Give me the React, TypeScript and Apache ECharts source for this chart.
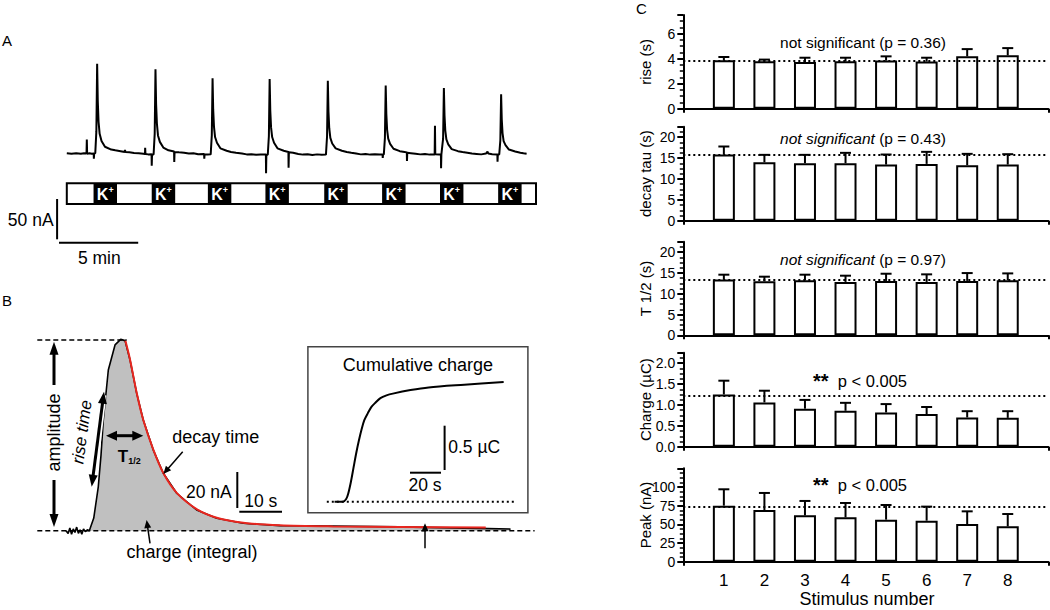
import React, { useEffect, useRef } from 'react';
import * as echarts from 'echarts';

const FONT = '"Liberation Sans", Arial, Helvetica, sans-serif';

// ---------------- Panel A: recording (time in min, current in nA) ----------------
const stimStartMin = [1.71, 5.43, 9.02, 12.7, 16.46, 20.16, 23.86, 27.58];
const stimDurationMin = 1.5;
const recordingSpanMin = [0, 30];
const traceA: number[][] = [
  [0, 0.8], [0.3, 0.2], [0.6, 1.0], [0.9, 0.4], [1.1, 0.9], [1.26, 0.5], [1.28, 18], [1.3, 0.3], [1.45, 1.0], [1.6, 0.2], [1.72, 0.6], [1.73, -6], [1.75, 0.5],
  [1.82, 1], [1.89, 28], [1.94, 112], [1.98, 66], [2.03, 40], [2.1, 25], [2.22, 16], [2.44, 9], [2.84, 5.5], [3.1, 4.5], [3.44, 3.5], [3.7, 2.5], [3.72, 5], [3.75, 2.5], [4.0, 2], [4.3, 1.2], [4.6, 0.8], [4.9, 0.3], [5.0, -0.2], [5.01, 7.8], [5.03, 0], [5.2, -0.5], [5.42, -0.3], [5.43, -14.5], [5.45, -0.5],
  [5.55, -0.5], [5.62, 25], [5.67, 105], [5.71, 62], [5.76, 38], [5.83, 23], [5.95, 15], [6.17, 8], [6.5, 4.5], [6.86, 3], [6.87, -10], [6.89, 2.5], [7.17, 2], [7.5, 1.5], [7.8, 0.5], [8.1, 0.8], [8.4, -0.3], [8.78, 0], [8.79, -5.8], [8.81, -0.5], [9.0, -0.8],
  [9.2, -0.5], [9.27, 23], [9.32, 94], [9.36, 55], [9.41, 34], [9.48, 21], [9.6, 14], [9.82, 7], [10.22, 4], [10.5, 2.5], [10.82, 1.5], [11.2, 0.5], [11.5, -0.5], [11.8, -0.2], [12.1, -1.0], [12.4, -0.6], [12.73, -0.8], [12.74, -24], [12.76, -1],
  [12.85, -1], [12.92, 22], [12.97, 93], [13.01, 54], [13.06, 33], [13.13, 21], [13.25, 14], [13.47, 7], [13.87, 4], [14.17, 2.5], [14.18, -17], [14.2, 2], [14.47, 1.5], [14.8, 0], [15.1, -0.8], [15.4, -0.3], [15.7, -1.2], [16.0, -0.5], [16.3, -1],
  [16.57, -0.8], [16.64, 22], [16.69, 91], [16.73, 53], [16.78, 32], [16.85, 20], [16.97, 13], [17.19, 7], [17.59, 4], [17.9, 2.5], [18.19, 1.5], [18.5, 0.5], [18.8, -0.5], [19.1, 0], [19.4, -0.8], [19.7, -0.3], [20.0, -0.6], [20.19, -0.5], [20.2, -5], [20.22, -0.5],
  [20.27, -0.5], [20.34, 20], [20.39, 85], [20.43, 50], [20.48, 30], [20.55, 19], [20.67, 12.5], [20.89, 6.5], [21.29, 3.5], [21.6, 2.5], [21.74, 2], [21.75, -8.7], [21.77, 1.5], [22.0, 1], [22.3, 0.3], [22.6, -0.5], [22.9, 0], [23.2, -0.8], [23.52, -0.5], [23.54, 35], [23.56, -0.3], [23.8, -0.5], [23.92, -0.5], [23.93, -17.7], [23.95, -0.5],
  [23.99, -0.5], [24.06, 19], [24.11, 82], [24.15, 48], [24.2, 29], [24.27, 18], [24.39, 12], [24.61, 6], [25.01, 3.5], [25.3, 2.5], [25.61, 1.5], [25.9, 0.5], [26.2, 0], [26.5, -0.5], [26.8, 0.5], [26.9, 3], [26.95, 0.5], [27.2, -0.3], [27.53, -0.5], [27.54, -9.5], [27.56, -0.5],
  [27.65, -0.5], [27.72, 17], [27.77, 74], [27.81, 43], [27.86, 26], [27.93, 16], [28.05, 11], [28.27, 5.5], [28.67, 3], [29.0, 1.5], [29.2, 0.8], [29.4, 0.3],
];

// ---------------- Panel B: single response (time in s, current in nA) ----------------
const traceB: number[][] = [
  [0, 0], [0.5, -1.5], [0.9, 1.5], [1.3, -2], [1.7, 1], [2.1, -1], [2.5, 2], [2.9, -1.5], [3.3, 0.5], [3.7, -2], [4.1, 1], [4.5, -0.5], [5, 0.5], [5.46, 0],
  [6.5, 7], [7.56, 24.4], [8.2, 42], [8.74, 61.5], [9.91, 89.3], [11.48, 103.2], [12.81, 106.3], [13.82, 105.6], [15.0, 94.8], [16.56, 76.3], [18.1, 61.5],
  [20.45, 44.8], [22.79, 31.9], [25.93, 20.8], [30.6, 11.5], [35.3, 6.9], [41.5, 4.1], [50.1, 2.8], [62.5, 2.6], [78.2, 2.1], [96.2, 1.3], [104.1, 0.9],
];
const fitB: number[][] = [
  [13.9, 105.6], [15.0, 95], [16.56, 76.5], [18.1, 61.5], [20.45, 45], [22.79, 32], [25.93, 21], [30.6, 12], [35.3, 7.2], [41.5, 4.4], [50.1, 3], [62.5, 2.4], [78.2, 2.1], [98.3, 1.8],
];
// inset: cumulative charge (time in s, charge in µC)
const cumulativeCharge: number[][] = [
  [5, 0], [10.4, 0], [12.5, 0.03], [13.8, 0.09], [15.5, 0.22], [17.3, 0.39], [19, 0.55], [20.7, 0.69], [22.5, 0.82], [24.2, 0.92], [26.5, 1.0], [28.8, 1.07],
  [31.5, 1.12], [34.6, 1.17], [38.5, 1.2], [42.6, 1.22], [54, 1.26], [65.7, 1.29], [88.7, 1.32], [114.1, 1.35],
];
const cumulativeBaseline: number[][] = [[0, 0], [122.6, 0]];

// ---------------- Panel C: summary statistics ----------------
const stimulusNumbers = [1, 2, 3, 4, 5, 6, 7, 8];
const riseMean = [3.87, 3.79, 3.74, 3.79, 3.85, 3.77, 4.19, 4.27];
const riseSem = [0.27, 0.14, 0.34, 0.29, 0.34, 0.31, 0.58, 0.58];
const riseRef = 3.85;
const decayMean = [15.84, 14.0, 13.76, 13.76, 13.44, 13.6, 13.28, 13.44];
const decaySem = [1.92, 1.76, 2.0, 2.48, 2.4, 2.88, 2.72, 2.48];
const decayRef = 15.84;
const halfMean = [13.39, 12.99, 13.23, 12.83, 13.07, 12.83, 13.07, 13.23];
const halfSem = [1.18, 1.1, 1.34, 1.5, 1.73, 1.82, 1.89, 1.65];
const halfRef = 13.31;
const chargeMean = [1.25, 1.06, 0.91, 0.86, 0.82, 0.78, 0.7, 0.69];
const chargeSem = [0.33, 0.28, 0.21, 0.19, 0.2, 0.17, 0.15, 0.16];
const chargeRef = 1.23;
const peakMean = [75, 69.2, 62, 59.4, 56.3, 54.9, 50.4, 47.3];
const peakSem = [21.9, 22.8, 19.3, 19.2, 19.6, 18.8, 17, 16.5];
const peakRef = 74;

const yNames = ['rise (s)', 'decay tau (s)', 'T 1/2 (s)', 'Charge (µC)', 'Peak (nA)'];
const yMax = [7.5, 22.5, 22.5, 2.25, 125];
const yInterval = [2, 5, 5, 0.5, 25];
const yDecimals = [0, 0, 0, 1, 0];

const panels = [
  { mean: riseMean, sem: riseSem, ref: riseRef },
  { mean: decayMean, sem: decaySem, ref: decayRef },
  { mean: halfMean, sem: halfSem, ref: halfRef },
  { mean: chargeMean, sem: chargeSem, ref: chargeRef },
  { mean: peakMean, sem: peakSem, ref: peakRef },
];
const cGridBox = [
  [15, 93.7], [126.7, 94], [241.7, 93.6], [352.7, 94], [468.3, 93.4],
];

const STIM_Y = 183.3;
const STIM_H = 20.7;

function ln(x1: number, y1: number, x2: number, y2: number, w = 2, dash?: number[], color = '#000') {
  return { type: 'line', z: 100, shape: { x1, y1, x2, y2 }, style: { stroke: color, lineWidth: w, lineDash: dash } };
}
function head(tx: number, ty: number, fx: number, fy: number, len: number, half: number) {
  const dx = fx - tx, dy = fy - ty;
  const L = Math.hypot(dx, dy);
  const ux = dx / L, uy = dy / L;
  const bx = tx + ux * len, by = ty + uy * len;
  const nx = -uy, ny = ux;
  return {
    type: 'polygon', z: 101,
    shape: { points: [[tx, ty], [bx + nx * half, by + ny * half], [bx - nx * half, by - ny * half]] },
    style: { fill: '#000' },
  };
}
function arrow(x1: number, y1: number, x2: number, y2: number, w: number, len: number, half: number, startHead: boolean, endHead: boolean) {
  const dx = x2 - x1, dy = y2 - y1;
  const L = Math.hypot(dx, dy);
  const ux = dx / L, uy = dy / L;
  const sx = startHead ? x1 + ux * len * 0.8 : x1;
  const sy = startHead ? y1 + uy * len * 0.8 : y1;
  const ex = endHead ? x2 - ux * len * 0.8 : x2;
  const ey = endHead ? y2 - uy * len * 0.8 : y2;
  const out: any[] = [ln(sx, sy, ex, ey, w)];
  if (startHead) out.push(head(x1, y1, x2, y2, len, half));
  if (endHead) out.push(head(x2, y2, x1, y1, len, half));
  return out;
}
function txt(x: number, y: number, text: string, size: number, align = 'center', extra: any = {}, rotation = 0) {
  return {
    type: 'text', z: 102, x, y, rotation,
    style: {
      text, fontSize: size, fontFamily: FONT, fill: '#000',
      align, verticalAlign: 'middle', textAlign: align, textVerticalAlign: 'middle',
      ...extra,
    },
  };
}

function buildOption() {
  const grid: any[] = [
    { left: 66.8, top: 57.3, width: 469.2, height: 128.9 },
    { left: 66, top: 332.7, width: 469.7, height: 216 },
    { left: 326.8, top: 368.8, width: 193.75, height: 141.76 },
    ...cGridBox.map(([top, height]) => ({ left: 683.3, top, width: 365, height })),
  ].map((g) => ({ ...g, containLabel: false, outerBoundsMode: 'none' }));

  const hiddenX = (i: number, min: number, max: number) => ({ type: 'value', gridIndex: i, min, max, show: false });
  const xAxis: any[] = [
    hiddenX(0, recordingSpanMin[0], recordingSpanMin[1]),
    hiddenX(1, 0, 110),
    hiddenX(2, 0, 125),
  ];
  const yAxis: any[] = [
    hiddenX(0, -40, 120),
    hiddenX(1, -10, 110),
    hiddenX(2, -0.1, 1.5),
  ];

  const series: any[] = [
    {
      type: 'line', xAxisIndex: 0, yAxisIndex: 0, data: traceA, symbol: 'none', showSymbol: false,
      lineStyle: { color: '#000', width: 2 }, z: 3,
    },
    {
      type: 'custom', xAxisIndex: 0, yAxisIndex: 0, data: [recordingSpanMin], z: 4,
      renderItem: (_p: any, api: any) => {
        const x0 = api.coord([api.value(0), 0])[0];
        const x1 = api.coord([api.value(1), 0])[0];
        return { type: 'rect', shape: { x: x0, y: STIM_Y, width: x1 - x0, height: STIM_H }, style: { fill: '#fff', stroke: '#000', lineWidth: 2 } };
      },
    },
    {
      type: 'custom', xAxisIndex: 0, yAxisIndex: 0, data: stimStartMin.map((s) => [s, 0]), z: 5,
      renderItem: (_p: any, api: any) => {
        const s = api.value(0);
        const x0 = api.coord([s, 0])[0];
        const x1 = api.coord([s + stimDurationMin, 0])[0];
        return {
          type: 'group',
          children: [
            { type: 'rect', shape: { x: x0, y: STIM_Y, width: x1 - x0, height: STIM_H }, style: { fill: '#000' } },
            {
              type: 'text', x: (x0 + x1) / 2, y: STIM_Y + STIM_H / 2 + 1,
              style: {
                text: '{k|K}{p|+}',
                align: 'center', verticalAlign: 'middle', textAlign: 'center', textVerticalAlign: 'middle',
                rich: {
                  k: { fontSize: 16, fontWeight: 'bold', fill: '#fff', fontFamily: FONT, lineHeight: 18 },
                  p: { fontSize: 9, fontWeight: 'bold', fill: '#fff', fontFamily: FONT, verticalAlign: 'top', lineHeight: 18 },
                },
              },
            },
          ],
        };
      },
    },
    {
      type: 'line', xAxisIndex: 1, yAxisIndex: 1, data: traceB, symbol: 'none', showSymbol: false,
      lineStyle: { color: '#000', width: 1.6 }, areaStyle: { color: '#c0c0c0', opacity: 1, origin: 0 }, z: 3,
    },
    {
      type: 'line', xAxisIndex: 1, yAxisIndex: 1, data: fitB, symbol: 'none', showSymbol: false, smooth: 0.3,
      lineStyle: { color: '#e8261f', width: 2 }, z: 4,
    },
    {
      type: 'line', xAxisIndex: 2, yAxisIndex: 2, data: cumulativeBaseline, symbol: 'none', showSymbol: false,
      lineStyle: { color: '#000', width: 2, type: [2, 3] }, z: 3,
    },
    {
      type: 'line', xAxisIndex: 2, yAxisIndex: 2, data: cumulativeCharge, symbol: 'none', showSymbol: false, smooth: 0.3,
      lineStyle: { color: '#000', width: 2 }, z: 4,
    },
  ];

  panels.forEach((p, i) => {
    const gi = 3 + i;
    const last = i === panels.length - 1;
    xAxis.push({
      type: 'value', gridIndex: gi, min: 0, max: 9, interval: 1,
      axisLine: { show: true, onZero: false, lineStyle: { color: '#000', width: 2 } },
      axisTick: { show: true, customValues: [0, 9], length: 4, lineStyle: { color: '#000', width: 2 } },
      axisLabel: last
        ? { show: true, customValues: stimulusNumbers, color: '#000', fontSize: 17, fontFamily: FONT, margin: 10 }
        : { show: false },
      splitLine: { show: false },
    });
    yAxis.push({
      type: 'value', gridIndex: gi, min: 0, max: yMax[i], interval: yInterval[i],
      axisLine: { show: true, lineStyle: { color: '#000', width: 2 } },
      axisTick: { show: true, length: 6, lineStyle: { color: '#000', width: 2 } },
      minorTick: { show: true, splitNumber: 4, length: 3.5, lineStyle: { color: '#000', width: 1.5 } },
      splitLine: { show: false },
      minorSplitLine: { show: false },
      axisLabel: {
        color: '#000', fontSize: 14, fontFamily: FONT, margin: 8, showMaxLabel: false,
        formatter: (v: number) => v.toFixed(yDecimals[i]),
      },
    });
    series.push({
      type: 'bar', xAxisIndex: gi, yAxisIndex: gi,
      data: stimulusNumbers.map((n, j) => [n, p.mean[j]]),
      barWidth: 22,
      itemStyle: { color: '#fff', borderColor: '#000', borderWidth: 2 },
      z: 2,
      markLine: {
        silent: true, symbol: ['none', 'none'], label: { show: false },
        lineStyle: { color: '#000', type: [2, 3], width: 2 },
        emphasis: { disabled: true },
        data: [{ yAxis: p.ref }],
      },
    });
    series.push({
      type: 'custom', xAxisIndex: gi, yAxisIndex: gi, z: 3,
      data: stimulusNumbers.map((n, j) => [n, p.mean[j], p.sem[j]]),
      encode: { x: 0, y: 1 },
      renderItem: (_pp: any, api: any) => {
        const x = api.value(0), m = api.value(1), e = api.value(2);
        const a = api.coord([x, m]);
        const b = api.coord([x, m + e]);
        return {
          type: 'group',
          children: [
            { type: 'line', shape: { x1: a[0], y1: a[1], x2: b[0], y2: b[1] }, style: { stroke: '#000', lineWidth: 2 } },
            { type: 'line', shape: { x1: b[0] - 5.5, y1: b[1], x2: b[0] + 5.5, y2: b[1] }, style: { stroke: '#000', lineWidth: 2 } },
          ],
        };
      },
    });
  });

  const g: any[] = [];
  // panel letters
  g.push(txt(2, 40, 'A', 15, 'left'));
  g.push(txt(2, 300, 'B', 15, 'left'));
  g.push(txt(636, 8, 'C', 15, 'left'));
  // panel A scale bars
  g.push(ln(57.1, 199, 57.1, 239.3, 2));
  g.push(ln(59, 242.7, 138.2, 242.7, 2));
  g.push(txt(53.6, 220, '50 nA', 17.5, 'right'));
  g.push(txt(99.3, 258, '5 min', 17.5, 'center'));

  // panel B annotations
  g.push(ln(37.3, 340, 126.7, 340, 1.5, [5, 3]));
  g.push(ln(37.3, 530.7, 534.6, 530.7, 1.5, [5, 3]));
  g.push(...arrow(54, 385, 54, 341.7, 3, 13, 4.5, false, true));
  g.push(...arrow(54, 480, 54, 527, 3, 13, 4.5, false, true));
  g.push(txt(54, 432.5, 'amplitude', 18, 'center', {}, Math.PI / 2));
  g.push({ type: 'line', z: 99, shape: { x1: 103, y1: 395, x2: 92.5, y2: 483 }, style: { stroke: '#fff', lineWidth: 7 } });
  g.push(...arrow(104, 391.7, 91.7, 486.7, 3, 12, 4.5, true, true));
  g.push(txt(82, 432, 'rise time', 17, 'center', { fontStyle: 'italic' }, 1.44));
  g.push(...arrow(106, 435.7, 143.3, 435.7, 3, 11, 5, true, true));
  g.push({
    type: 'text', z: 102, x: 129.2, y: 456.7,
    style: {
      text: '{t|T}{s|1/2}', align: 'center', verticalAlign: 'middle', textAlign: 'center', textVerticalAlign: 'middle',
      rich: {
        t: { fontSize: 17, fontWeight: 'bold', fontFamily: FONT, fill: '#000', lineHeight: 18 },
        s: { fontSize: 9, fontWeight: 'bold', fontFamily: FONT, fill: '#000', verticalAlign: 'bottom', lineHeight: 18 },
      },
    },
  });
  g.push(txt(215.8, 436.7, 'decay time', 18));
  g.push(...arrow(182.7, 451.7, 163.3, 474, 1.5, 8, 3.5, false, true));
  g.push(txt(192, 551.7, 'charge (integral)', 18));
  g.push(...arrow(150, 543.3, 146.6, 520, 1.5, 8, 3.5, false, true));
  g.push(ln(237.3, 472, 237.3, 508, 2));
  g.push(txt(231.7, 491.7, '20 nA', 17.5, 'right'));
  g.push(ln(239.3, 511.7, 282, 511.7, 2));
  g.push(txt(260.7, 500.7, '10 s', 17.5));
  g.push(...arrow(425, 548.3, 425, 523.3, 1.5, 8, 3.5, false, true));
  // inset
  g.push({ type: 'rect', z: 1, shape: { x: 307.9, y: 346.7, width: 220, height: 166 }, style: { fill: 'none', stroke: '#444', lineWidth: 1.5 } });
  g.push(txt(417.9, 365, 'Cumulative charge', 18));
  g.push(ln(444.6, 425.7, 444.6, 470, 2));
  g.push(txt(448.2, 446.7, '0.5 µC', 17.5, 'left'));
  g.push(ln(410, 472.7, 441, 472.7, 2));
  g.push(txt(425, 485, '20 s', 17.5));

  // panel C texts
  const sigY = [42.7, 138.3, 259.3, 380.7, 485];
  const baseRich = (size: number) => ({ fontSize: size, fontFamily: FONT, fill: '#000' });
  g.push(txt(863, sigY[0], 'not significant (p = 0.36)', 15.5));
  const italicSig = (y: number, p: string) => ({
    type: 'text', z: 102, x: 863, y,
    style: {
      text: `{i|not significant}{n| (p = ${p})}`,
      align: 'center', verticalAlign: 'middle', textAlign: 'center', textVerticalAlign: 'middle',
      rich: { i: { ...baseRich(15.5), fontStyle: 'italic' }, n: baseRich(15.5) },
    },
  });
  g.push(italicSig(sigY[1], '0.43'));
  g.push(italicSig(sigY[2], '0.97'));
  const starSig = (y: number) => ({
    type: 'text', z: 102, x: 860, y,
    style: {
      text: '{a|**}{n|  p < 0.005}',
      align: 'center', verticalAlign: 'middle', textAlign: 'center', textVerticalAlign: 'middle',
      rich: { a: { ...baseRich(20), fontWeight: 'bold', verticalAlign: 'middle' }, n: baseRich(16.5) },
    },
  });
  g.push(starSig(sigY[3]));
  g.push(starSig(sigY[4]));
  cGridBox.forEach(([top, h], i) => {
    g.push(txt(645, top + h / 2, yNames[i], 15, 'center', {}, Math.PI / 2));
  });
  g.push(txt(867, 599, 'Stimulus number', 18));

  return {
    animation: false,
    backgroundColor: '#fff',
    textStyle: { fontFamily: FONT, color: '#000' },
    grid, xAxis, yAxis, series,
    graphic: { elements: g },
  };
}

export default function App() {
  const ref = useRef<HTMLDivElement>(null);
  useEffect(() => {
    if (!ref.current) return;
    const chart = echarts.init(ref.current, undefined, { renderer: 'svg' });
    chart.setOption(buildOption() as any);
    return () => chart.dispose();
  }, []);
  return <div ref={ref} style={{ position: 'absolute', left: 0, top: 0, width: 1050, height: 610, background: '#fff' }} />;
}
